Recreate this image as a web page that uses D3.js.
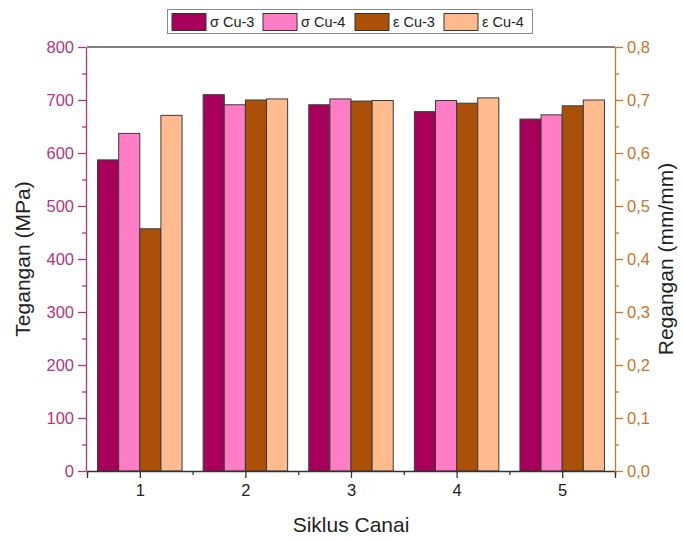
<!DOCTYPE html>
<html><head><meta charset="utf-8">
<script src="https://cdn.jsdelivr.net/npm/d3@7"></script>
<style>body{margin:0;background:#fff}svg{display:block;font-family:"Liberation Sans",Arial,sans-serif}</style>
</head><body><svg id="c" width="683" height="541"></svg>
<script>
const categories = [1, 2, 3, 4, 5];
const seriesNames = ["σ Cu-3", "σ Cu-4", "ε Cu-3", "ε Cu-4"];
const sigmaCu3 = [587, 710, 691, 678, 664];
const sigmaCu4 = [637, 691, 702, 699, 672];
const epsCu3 = [0.457, 0.700, 0.698, 0.694, 0.689];
const epsCu4 = [0.671, 0.702, 0.699, 0.704, 0.700];
const leftTicks = [0, 100, 200, 300, 400, 500, 600, 700, 800];
const rightTicks = [0, 0.1, 0.2, 0.3, 0.4, 0.5, 0.6, 0.7, 0.8];
const colors = ["#A6005A", "#FF7DC5", "#AA5009", "#FFBA8E"];

const svg = d3.select("#c");
const L = 87, R = 615, T = 47, B = 471;
const x = d3.scaleLinear().domain([0.5, 5.5]).range([L, R]);
const yL = d3.scaleLinear().domain([0, 800]).range([B, T]);
const yR = d3.scaleLinear().domain([0, 0.8]).range([B, T]);
const leftColor = "#B4357E", rightColor = "#C8742C";

const series = [
  {vals: sigmaCu3, scale: yL},
  {vals: sigmaCu4, scale: yL},
  {vals: epsCu3, scale: yR},
  {vals: epsCu4, scale: yR}
];
const bw = 0.2;
series.forEach((s, i) => {
  svg.append("g").selectAll("rect").data(categories).join("rect")
    .attr("x", (c) => x(c - 0.4 + i * bw))
    .attr("width", x(bw) - x(0))
    .attr("y", (c, j) => s.scale(s.vals[j]))
    .attr("height", (c, j) => B - s.scale(s.vals[j]))
    .attr("fill", colors[i])
    .attr("stroke", "#3a3a3a").attr("stroke-width", 1);
});

// frame top
svg.append("line").attr("x1", L).attr("x2", R).attr("y1", T).attr("y2", T).attr("stroke", "#555").attr("stroke-width", 1.3);

// bottom axis
const xAx = svg.append("g").attr("transform", `translate(0,${B})`)
  .call(d3.axisBottom(x).tickValues(categories).tickFormat(d3.format("d")).tickSize(7).tickPadding(6));
xAx.select(".domain").attr("stroke", "#333").attr("stroke-width", 1.3);
xAx.selectAll(".tick line").attr("stroke", "#333").attr("stroke-width", 1.3);
xAx.selectAll("text").attr("font-size", 16.5).attr("fill", "#222").attr("font-family", "Liberation Sans, Arial, sans-serif");
svg.append("g").attr("transform", `translate(0,${B})`)
  .call(d3.axisBottom(x).tickValues([0.5, 1.5, 2.5, 3.5, 4.5, 5.5]).tickFormat("").tickSize(4))
  .call(g => { g.select(".domain").remove(); g.selectAll("line").attr("stroke", "#333").attr("stroke-width", 1.3); });

// left axis
const lAx = svg.append("g").attr("transform", `translate(${L - 1},0)`)
  .call(d3.axisLeft(yL).tickValues(leftTicks).tickSize(8).tickPadding(4).tickSizeOuter(0));
lAx.select(".domain").attr("stroke", leftColor).attr("stroke-width", 1.3);
lAx.selectAll(".tick line").attr("stroke", leftColor).attr("stroke-width", 1.3);
lAx.selectAll("text").attr("font-size", 16.5).attr("fill", leftColor).attr("font-family", "Liberation Sans, Arial, sans-serif");
svg.append("g").attr("transform", `translate(${L - 1},0)`)
  .call(d3.axisLeft(yL).tickValues([50, 150, 250, 350, 450, 550, 650, 750]).tickFormat("").tickSize(4))
  .call(g => { g.select(".domain").remove(); g.selectAll("line").attr("stroke", leftColor).attr("stroke-width", 1.3); });

// right axis
const rAx = svg.append("g").attr("transform", `translate(${R},0)`)
  .call(d3.axisRight(yR).tickValues(rightTicks).tickFormat(d => d3.format(".1f")(d).replace(".", ",")).tickSize(8).tickPadding(4).tickSizeOuter(0));
rAx.select(".domain").attr("stroke", rightColor).attr("stroke-width", 1.3);
rAx.selectAll(".tick line").attr("stroke", rightColor).attr("stroke-width", 1.3);
rAx.selectAll("text").attr("font-size", 16.5).attr("fill", rightColor).attr("font-family", "Liberation Sans, Arial, sans-serif");
svg.append("g").attr("transform", `translate(${R},0)`)
  .call(d3.axisRight(yR).tickValues([0.05, 0.15, 0.25, 0.35, 0.45, 0.55, 0.65, 0.75]).tickFormat("").tickSize(4))
  .call(g => { g.select(".domain").remove(); g.selectAll("line").attr("stroke", rightColor).attr("stroke-width", 1.3); });

// titles
svg.append("text").attr("x", 351).attr("y", 532).attr("text-anchor", "middle").attr("font-size", 21).attr("fill", "#222").text("Siklus Canai");
svg.append("text").attr("transform", "translate(30,259) rotate(-90)").attr("text-anchor", "middle").attr("font-size", 21).attr("fill", "#222").text("Tegangan (MPa)");
svg.append("text").attr("transform", "translate(673,259) rotate(-90)").attr("text-anchor", "middle").attr("font-size", 21).attr("fill", "#222").text("Regangan (mm/mm)");

// legend
const lg = svg.append("g");
lg.append("rect").attr("x", 167.5).attr("y", 9.5).attr("width", 365).attr("height", 24).attr("fill", "#fff").attr("stroke", "#888").attr("stroke-width", 1);
const lx = [172, 263, 355, 444];
seriesNames.forEach((n, i) => {
  lg.append("rect").attr("x", lx[i]).attr("y", 13.5).attr("width", 34).attr("height", 17).attr("fill", colors[i]).attr("stroke", "#333").attr("stroke-width", 1);
  lg.append("text").attr("x", lx[i] + 38).attr("y", 27).attr("font-size", 14.5).attr("fill", "#222").text(n);
});
</script></body></html>
